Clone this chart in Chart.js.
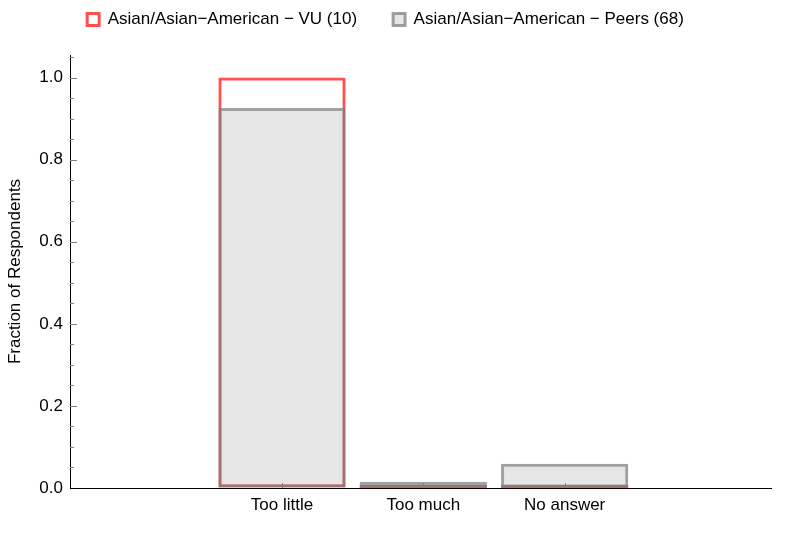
<!DOCTYPE html>
<html>
<head>
<meta charset="utf-8">
<script src="https://cdn.jsdelivr.net/npm/chart.js@4"></script>
<style>
  body { margin: 0; background: #fff; }
  #wrap { width: 785px; height: 534px; }
</style>
</head>
<body>
<div id="wrap"><canvas id="chart" width="785" height="534"></canvas></div>
<script>
// Chart data
const categories = ['Too little', 'Too much', 'No answer'];
const seriesNames = ['Asian/Asian\u2212American \u2212 VU (10)', 'Asian/Asian\u2212American \u2212 Peers (68)'];
const vuValues = [1.0, 0, 0];
const peerValues = [0.926, 0.015, 0.059];
const yTickValues = [0, 0.2, 0.4, 0.6, 0.8, 1.0];
const yMinorStep = 0.05;

// categories sit at x = 1, 2, 3 on a linear axis
const xPositions = categories.map((c, i) => i + 1);
const FONT = 'Liberation Sans, Arial, sans-serif';
const FONT_SIZE = 17;
const VU_RED = 'rgba(255,80,80,1)';

// zero-height bars still show their outline as a flat line on the baseline
const flatBars = {
    id: 'flatBars',
    beforeDatasetsDraw(chart) {
        const { ctx, scales: { y } } = chart;
        const meta = chart.getDatasetMeta(0);
        const base = y.getPixelForValue(0);
        ctx.save();
        ctx.fillStyle = VU_RED;
        meta.data.forEach((bar, i) => {
            if (vuValues[i] !== 0) return;
            ctx.fillRect(bar.x - bar.width / 2, base - 3, bar.width, 3);
        });
        ctx.restore();
    }
};

// little tick marks drawn inward, like the original plot
const innerTicks = {
    id: 'innerTicks',
    afterDatasetsDraw(chart) {
        const { ctx, scales: { x, y } } = chart;
        ctx.save();
        ctx.strokeStyle = '#808080';
        ctx.lineWidth = 1;
        ctx.beginPath();
        const steps = Math.floor(y.max / yMinorStep + 1e-6);
        for (let i = 1; i <= steps; i++) {
            const py = Math.round(y.getPixelForValue(i * yMinorStep)) + 0.5;
            const len = i % 4 === 0 ? 7 : 4;
            ctx.moveTo(x.left, py);
            ctx.lineTo(x.left + len, py);
        }
        xPositions.forEach(v => {
            const px = Math.round(x.getPixelForValue(v)) + 0.5;
            ctx.moveTo(px, y.bottom);
            ctx.lineTo(px, y.bottom - 5);
        });
        ctx.stroke();
        ctx.restore();
    }
};

// make the legend strip a fixed height
const legendHeight = {
    id: 'legendHeight',
    beforeInit(chart) {
        const fit = chart.legend.fit;
        chart.legend.fit = function() {
            fit.call(this);
            this.height = 80;
        };
    }
};

const ctx = document.getElementById('chart').getContext('2d');
const chart = new Chart(ctx, {
    type: 'bar',
    data: {
        datasets: [{
            label: seriesNames[0],
            data: vuValues.map((v, i) => ({ x: xPositions[i], y: v })),
            backgroundColor: 'rgba(255,255,255,0)',
            borderColor: VU_RED,
            borderWidth: 3,
            borderSkipped: false,
            order: 1
        }, {
            label: seriesNames[1],
            data: peerValues.map((v, i) => ({ x: xPositions[i], y: v })),
            backgroundColor: 'rgba(128,128,128,0.2)',
            borderColor: 'rgba(128,128,128,0.75)',
            borderWidth: 3,
            borderSkipped: false,
            order: 0
        }]
    },
    options: {
        responsive: false,
        animation: false,
        grouped: false,
        barPercentage: 0.9,
        categoryPercentage: 1,
        layout: { padding: { top: -25, right: 14, left: 0, bottom: 0 } },
        plugins: {
            legend: {
                position: 'top',
                labels: {
                    boxWidth: 12,
                    boxHeight: 12,
                    padding: 36,
                    color: '#000',
                    font: { family: FONT, size: FONT_SIZE },
                    sort: (a, b) => a.datasetIndex - b.datasetIndex
                }
            },
            tooltip: { enabled: false }
        },
        scales: {
            x: {
                type: 'linear',
                offset: false,
                min: -0.5,
                max: 4.46,
                afterBuildTicks: scale => { scale.ticks = xPositions.map(v => ({ value: v })); },
                afterFit: scale => { scale.height = 46; },
                grid: { display: true, drawOnChartArea: false, drawTicks: false },
                border: { display: true, color: '#000', width: 1 },
                ticks: {
                    padding: 7,
                    color: '#000',
                    font: { family: FONT, size: FONT_SIZE },
                    maxRotation: 0,
                    autoSkip: false,
                    callback: (value, index) => categories[index]
                }
            },
            y: {
                min: 0,
                max: 1.055,
                afterBuildTicks: scale => { scale.ticks = yTickValues.map(v => ({ value: v })); },
                afterFit: scale => { scale.width = 70; },
                grid: { display: true, drawOnChartArea: false, drawTicks: false },
                border: { display: true, color: '#000', width: 1 },
                ticks: {
                    padding: 7,
                    color: '#000',
                    font: { family: FONT, size: FONT_SIZE },
                    callback: value => value.toFixed(1)
                },
                title: {
                    display: true,
                    text: 'Fraction of Respondents',
                    color: '#000',
                    font: { family: FONT, size: FONT_SIZE },
                    padding: { top: 5, bottom: 4 }
                }
            }
        }
    },
    plugins: [flatBars, innerTicks, legendHeight]
});
</script>
</body>
</html>
